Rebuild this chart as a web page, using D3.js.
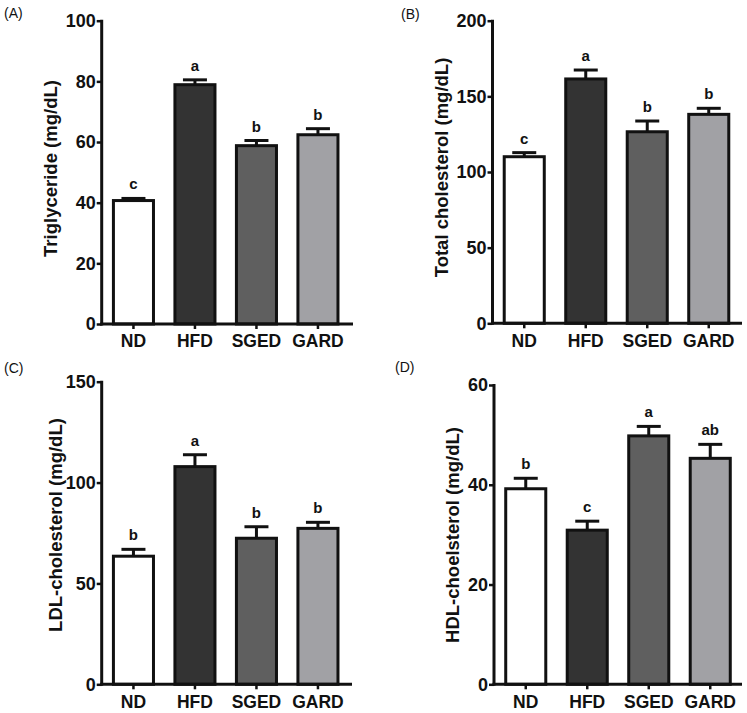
<!DOCTYPE html>
<html>
<head>
<meta charset="utf-8">
<script src="https://cdn.jsdelivr.net/npm/d3@7"></script>
<style>
  html, body { margin: 0; padding: 0; background: #fff; }
  svg { display: block; }
  text { font-family: "Liberation Sans", Arial, Helvetica, sans-serif; }
</style>
</head>
<body>
<svg id="chart" width="747" height="713"></svg>
<script>
// ---- data ----
const categories = ["ND", "HFD", "SGED", "GARD"];
const barColors = ["#ffffff", "#333333", "#5f5f5f", "#a1a1a5"];

const panelTags = ["(A)", "(B)", "(C)", "(D)"];
const yTitles = ["Triglyceride (mg/dL)", "Total cholesterol (mg/dL)", "LDL-cholesterol (mg/dL)", "HDL-choelsterol (mg/dL)"];

const triglyceride = [40.7, 78.9, 58.8, 62.4];
const triglycerideErr = [0.7, 1.6, 1.7, 2.0];
const triglycerideSig = ["c", "a", "b", "b"];
const triglycerideTicks = [0, 20, 40, 60, 80, 100];

const totalChol = [110.1, 161.5, 126.6, 138.1];
const totalCholErr = [2.7, 5.9, 7.1, 4.0];
const totalCholSig = ["c", "a", "b", "b"];
const totalCholTicks = [0, 50, 100, 150, 200];

const ldl = [63.5, 107.9, 72.4, 77.3];
const ldlErr = [3.4, 5.9, 5.7, 3.0];
const ldlSig = ["b", "a", "b", "b"];
const ldlTicks = [0, 50, 100, 150];

const hdl = [39.2, 30.9, 49.8, 45.3];
const hdlErr = [2.1, 1.8, 1.9, 2.8];
const hdlSig = ["b", "c", "a", "ab"];
const hdlTicks = [0, 20, 40, 60];

// ---- layout (positions only) ----
const layout = [
  { x0: 101.7, yTop: 20.7, yBot: 324, xEnd: 353, tag: [4, 18], titleX: 57, titleY: 168.5 },
  { x0: 492.5, yTop: 20.7, yBot: 323.3, xEnd: 742, tag: [401, 19], titleX: 448, titleY: 167.5 },
  { x0: 101.7, yTop: 381.7, yBot: 684.3, xEnd: 352, tag: [4, 373], titleX: 61.5, titleY: 525 },
  { x0: 494, yTop: 385, yBot: 684.3, xEnd: 742, tag: [395, 372], titleX: 459, titleY: 535 }
];

const panels = [
  { values: triglyceride, errs: triglycerideErr, sig: triglycerideSig, ticks: triglycerideTicks },
  { values: totalChol, errs: totalCholErr, sig: totalCholSig, ticks: totalCholTicks },
  { values: ldl, errs: ldlErr, sig: ldlSig, ticks: ldlTicks },
  { values: hdl, errs: hdlErr, sig: hdlSig, ticks: hdlTicks }
];

const svg = d3.select("#chart");
const SW = 3;

panels.forEach((p, i) => {
  const L = layout[i];
  const g = svg.append("g");
  const yMax = p.ticks[p.ticks.length - 1];
  const y = d3.scaleLinear().domain([0, yMax]).range([L.yBot, L.yTop]);
  const x = d3.scaleBand().domain(categories)
    .range([L.x0 + 1, L.x0 + 1 + 4 * 61.5])
    .paddingInner(0.3).paddingOuter(0.15);

  // panel tag
  g.append("text").attr("x", L.tag[0]).attr("y", L.tag[1])
    .attr("font-size", 14).attr("fill", "#111")
    .attr("font-family", "'Open Sans', 'Liberation Sans', sans-serif")
    .text(panelTags[i]);

  // y title
  g.append("text")
    .attr("transform", `translate(${L.titleX},${L.titleY}) rotate(-90)`)
    .attr("text-anchor", "middle")
    .attr("font-size", 18.5).attr("font-weight", "bold").attr("fill", "#111")
    .text(yTitles[i]);

  // error bars
  const eg = g.append("g").attr("stroke", "#111").attr("stroke-width", SW);
  categories.forEach((c, k) => {
    const cx = x(c) + x.bandwidth() / 2;
    const top = y(p.values[k] + p.errs[k]);
    eg.append("line").attr("x1", cx).attr("x2", cx)
      .attr("y1", y(p.values[k])).attr("y2", top);
    eg.append("line").attr("x1", cx - 12).attr("x2", cx + 12)
      .attr("y1", top).attr("y2", top);
  });

  // bars
  g.append("g").selectAll("rect").data(categories).join("rect")
    .attr("x", d => x(d) + SW / 2)
    .attr("width", x.bandwidth() - SW)
    .attr("y", (d, k) => y(p.values[k]))
    .attr("height", (d, k) => L.yBot - y(p.values[k]))
    .attr("fill", (d, k) => barColors[k])
    .attr("stroke", "#111").attr("stroke-width", SW);

  // significance letters
  g.append("g").selectAll("text").data(categories).join("text")
    .attr("x", d => x(d) + x.bandwidth() / 2)
    .attr("y", (d, k) => y(p.values[k] + p.errs[k]) - 9)
    .attr("text-anchor", "middle")
    .attr("font-size", 15).attr("font-weight", "bold").attr("fill", "#111")
    .text((d, k) => p.sig[k]);

  // y axis
  const yAxis = d3.axisLeft(y).tickValues(p.ticks).tickSize(5).tickPadding(1).tickSizeOuter(0);
  const ya = g.append("g").attr("transform", `translate(${L.x0},0)`).call(yAxis);
  ya.select(".domain").attr("stroke", "#111").attr("stroke-width", SW)
    .attr("d", `M0,${L.yTop - 1}V${L.yBot + 1.5}`);
  ya.selectAll(".tick line").attr("stroke", "#111").attr("stroke-width", 2.5);
  ya.selectAll(".tick text").attr("font-size", 18).attr("font-weight", "bold")
    .attr("fill", "#111").attr("font-family", "'Liberation Sans', Arial, sans-serif");

  // x axis
  const xAxis = d3.axisBottom(x).tickSize(5).tickPadding(6).tickSizeOuter(0);
  const xa = g.append("g").attr("transform", `translate(0,${L.yBot})`).call(xAxis);
  xa.select(".domain").attr("stroke", "#111").attr("stroke-width", SW)
    .attr("d", `M${L.x0 - 1.5},0H${L.xEnd}`);
  xa.selectAll(".tick line").attr("stroke", "#111").attr("stroke-width", 2.5);
  xa.selectAll(".tick text").attr("font-size", 17.5).attr("font-weight", "bold")
    .attr("fill", "#111").attr("font-family", "'Liberation Sans', Arial, sans-serif");
});
</script>
</body>
</html>
